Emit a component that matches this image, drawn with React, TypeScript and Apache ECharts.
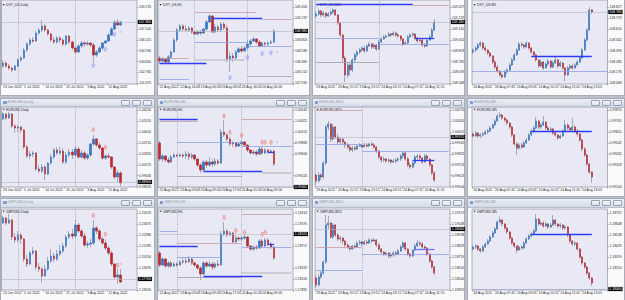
import React, { useEffect, useRef } from "react";
import * as echarts from "echarts";

type C = [number, number, number, number]; // open, close, low, high
type Seg = [number, number, number, string]; // price, from index, to index, style
type Pt = [number, number]; // index, price

// ---------------- DXY ----------------
const dxyD: C[] = [
  [103.4,103.7,103.2,104.0],[103.7,103.4,103.2,103.9],[103.4,103.2,103.0,103.6],[103.2,103.0,102.8,103.3],
  [103.0,103.4,102.9,103.5],[103.4,104.0,103.3,104.2],[104.0,104.2,103.8,104.4],[104.2,105.0,104.1,105.2],
  [105.0,105.6,104.8,105.8],[105.6,106.0,105.4,106.2],[106.0,105.9,105.7,106.3],[105.9,106.7,105.8,106.9],
  [106.7,107.0,106.5,107.2],[107.0,107.4,106.8,108.0],[107.4,107.0,106.8,107.6],[107.0,106.6,106.4,107.1],
  [106.6,106.0,105.8,106.7],[106.0,105.8,105.6,106.3],[105.8,106.2,105.6,106.4],[106.2,106.0,105.7,106.4],
  [106.0,105.6,105.4,106.2],[105.6,106.4,105.4,106.5],[106.4,105.8,105.6,106.5],[105.8,105.2,105.0,105.9],
  [105.2,104.8,104.6,105.4],[104.8,105.4,104.7,105.6],[105.4,105.7,105.2,105.9],[105.7,105.6,105.3,105.9],
  [105.6,105.7,105.4,105.9],[105.7,105.5,105.3,105.8],[105.5,104.5,103.8,105.7],[104.5,104.8,104.3,105.0],
  [104.8,105.2,104.7,105.4],[105.2,105.7,105.0,105.8],[105.7,105.9,105.6,106.0],[105.9,106.5,105.8,106.7],
  [106.5,107.1,106.4,107.3],[107.1,107.8,107.0,108.0],[107.8,107.5,107.4,108.1],[107.5,107.8,107.4,107.9],
];
const dxyDTicks = [109.27, 107.1, 106.015, 104.93, 103.845, 102.76, 101.675];
const dxyDUp: Pt[] = [[30, 103.5], [34, 105.1], [37, 106.6]];
const dxyDQ: Pt[] = [[39, 106.7]];
const dxyDV = [5, 24];

const dxyH1: C[] = [
  [108.44,108.38,108.34,108.48],[108.38,108.42,108.32,108.46],[108.42,108.36,108.34,108.44],[108.36,108.46,108.34,108.50],
  [108.46,108.56,108.44,108.60],[108.56,108.80,108.54,108.84],[108.80,109.00,108.76,109.04],[109.00,109.08,108.96,109.12],
  [109.08,109.02,108.98,109.12],[109.02,109.00,108.98,109.10],[109.00,109.04,108.96,109.08],[109.04,108.96,108.92,109.06],
  [108.96,108.92,108.90,109.00],[108.92,108.96,108.90,109.00],[108.96,108.94,108.90,109.00],[108.94,109.02,108.92,109.04],
  [109.02,109.16,108.98,109.20],[109.16,109.28,109.14,109.32],[109.28,108.96,108.94,109.30],[108.96,109.06,108.94,109.12],
  [109.06,109.00,108.96,109.10],[109.00,109.12,108.96,109.16],[109.12,109.04,109.00,109.16],[109.04,108.40,108.36,109.10],
  [108.40,108.48,108.16,108.56],[108.48,108.44,108.36,108.54],[108.44,108.56,108.40,108.60],[108.56,108.62,108.54,108.66],
  [108.62,108.58,108.54,108.68],[108.58,108.64,108.56,108.68],[108.64,108.72,108.60,108.80],[108.72,108.78,108.68,108.82],
  [108.78,108.82,108.76,108.86],[108.82,108.76,108.72,108.84],[108.76,108.68,108.66,108.80],[108.68,108.74,108.66,108.76],
  [108.74,108.72,108.66,108.76],[108.72,108.74,108.68,108.78],[108.74,108.76,108.72,108.80],[108.76,108.98,108.74,109.02],
];
const dxyH1Ticks = [109.454, 109.237, 108.803, 108.586, 108.369, 108.152, 107.935];
const dxyH1Segs: Seg[] = [
  [109.354, 12, 33, "brown"], [109.234, 18, 35, "blue"], [109.214, 35, 45, "brown"],
  [108.754, 12, 30, "lblue"], [108.68, 30, 45, "lblue"], [108.434, 0, 10, "brown"],
  [108.34, 0, 16, "blue"], [108.414, 12, 29, "gray2"], [108.02, 0, 10, "lblue"], [108.066, 30, 45, "gray"],
];
const dxyH1Up: Pt[] = [[24, 108.054], [30, 108.454], [35, 108.534], [38, 108.546]];
const dxyH1Q: Pt[] = [[40, 108.55]];
const dxyH1V = [12, 30];

const dxyM15: C[] = [
  [109.24,109.26,109.22,109.29],[109.26,109.29,109.24,109.31],[109.29,109.25,109.23,109.30],[109.25,109.27,109.23,109.29],
  [109.27,109.24,109.22,109.28],[109.24,109.26,109.23,109.28],[109.26,109.28,109.24,109.30],[109.28,109.30,109.26,109.32],
  [109.30,109.25,109.24,109.31],[109.25,109.17,109.15,109.26],[109.17,109.05,109.03,109.18],[109.05,108.82,108.78,109.06],
  [108.82,108.65,108.58,108.84],[108.65,108.75,108.62,108.78],[108.75,108.70,108.64,108.77],[108.70,108.80,108.68,108.82],
  [108.80,108.85,108.78,108.87],[108.85,108.88,108.83,108.90],[108.88,108.90,108.86,108.92],[108.90,108.92,108.88,108.94],
  [108.92,108.89,108.87,108.94],[108.89,108.94,108.88,108.96],[108.94,108.96,108.93,108.98],[108.96,108.93,108.91,108.97],
  [108.93,108.95,108.91,108.97],[108.95,108.91,108.89,108.96],[108.91,108.98,108.90,109.00],[108.98,109.01,108.97,109.03],
  [109.01,109.03,109.00,109.05],[109.03,109.04,109.02,109.06],[109.04,109.06,109.03,109.08],[109.06,109.05,109.03,109.07],
  [109.05,109.07,109.04,109.09],[109.07,109.05,109.03,109.08],[109.05,109.04,109.02,109.07],[109.04,109.01,108.99,109.05],
  [109.01,108.96,108.94,109.02],[108.96,108.97,108.95,108.99],[108.97,109.03,108.96,109.05],[109.03,109.05,109.02,109.07],
  [109.05,109.06,109.03,109.08],[109.06,109.02,109.00,109.07],[109.02,108.99,108.97,109.03],[108.99,109.00,108.98,109.02],
  [109.00,108.95,108.93,109.01],[108.95,108.94,108.92,108.97],[108.94,109.00,108.93,109.02],[109.00,109.03,108.99,109.05],
  [109.03,109.10,109.02,109.12],[109.10,109.18,109.09,109.21],
];
const dxyM15Ticks = [109.327, 109.219, 109.11, 109.002, 108.893, 108.785, 108.676, 108.568];
const dxyM15Segs: Seg[] = [
  [109.357, 0, 40, "blue"], [109.343, 40, 55, "brown"], [109.017, 0, 26, "lblue"],
  [108.957, 26, 55, "lblue"], [108.773, 0, 26, "gray"], [109.017, 41, 49, "blue"],
];
const dxyM15V = [26];

const dxyM5: C[] = [
  [108.38,108.40,108.36,108.42],[108.40,108.42,108.38,108.44],[108.42,108.45,108.40,108.47],[108.45,108.47,108.43,108.49],
  [108.47,108.42,108.40,108.48],[108.42,108.40,108.38,108.44],[108.40,108.37,108.35,108.41],[108.37,108.34,108.32,108.38],
  [108.34,108.28,108.26,108.35],[108.28,108.23,108.21,108.30],[108.23,108.19,108.17,108.25],[108.19,108.15,108.13,108.20],
  [108.15,108.13,108.11,108.17],[108.13,108.18,108.12,108.20],[108.18,108.20,108.16,108.22],[108.20,108.25,108.19,108.27],
  [108.25,108.30,108.24,108.32],[108.30,108.35,108.29,108.37],[108.35,108.40,108.34,108.42],[108.40,108.46,108.39,108.48],
  [108.46,108.45,108.43,108.48],[108.45,108.43,108.41,108.46],[108.43,108.47,108.42,108.49],[108.47,108.42,108.40,108.48],
  [108.42,108.38,108.36,108.43],[108.38,108.35,108.33,108.39],[108.35,108.30,108.28,108.36],[108.30,108.24,108.22,108.31],
  [108.24,108.28,108.23,108.30],[108.28,108.22,108.20,108.29],[108.22,108.26,108.21,108.28],[108.26,108.29,108.24,108.31],
  [108.29,108.23,108.21,108.30],[108.23,108.27,108.22,108.29],[108.27,108.30,108.26,108.33],[108.30,108.24,108.22,108.31],
  [108.24,108.27,108.23,108.29],[108.27,108.22,108.20,108.28],[108.22,108.15,108.09,108.23],[108.15,108.22,108.14,108.24],
  [108.22,108.24,108.20,108.26],[108.24,108.22,108.20,108.26],[108.22,108.25,108.21,108.27],[108.25,108.28,108.24,108.30],
  [108.28,108.32,108.27,108.34],[108.32,108.40,108.31,108.42],[108.40,108.50,108.39,108.52],[108.50,108.60,108.49,108.62],
  [108.60,108.80,108.59,108.83],[108.80,108.78,108.76,108.81],
];
const dxyM5Ticks = [108.827, 108.719, 108.61, 108.502, 108.393, 108.285, 108.176, 108.068];
const dxyM5Segs: Seg[] = [[108.333, 24, 49, "blue"]];
const dxyM5Full: [number, string][] = [[108.19, "lblue"]];

// ---------------- EURUSD ----------------
const eurD: C[] = [
  [1.053,1.058,1.052,1.060],[1.058,1.054,1.052,1.059],[1.054,1.058,1.053,1.060],[1.058,1.046,1.044,1.059],
  [1.046,1.044,1.039,1.048],[1.044,1.045,1.040,1.047],[1.045,1.042,1.039,1.046],[1.042,1.025,1.023,1.043],
  [1.025,1.016,1.014,1.027],[1.016,1.018,1.013,1.021],[1.018,1.019,1.015,1.021],[1.019,1.003,1.001,1.020],
  [1.003,1.001,0.999,1.007],[1.001,1.005,0.999,1.008],[1.005,0.998,0.992,1.007],[0.998,1.009,0.997,1.010],
  [1.009,1.015,1.007,1.018],[1.015,1.022,1.013,1.024],[1.022,1.019,1.017,1.025],[1.019,1.021,1.017,1.025],
  [1.021,1.010,1.008,1.024],[1.010,1.017,1.008,1.020],[1.017,1.020,1.015,1.023],[1.020,1.017,1.013,1.023],
  [1.017,1.023,1.015,1.026],[1.023,1.015,1.013,1.025],[1.015,1.019,1.013,1.022],[1.019,1.014,1.012,1.021],
  [1.014,1.017,1.012,1.019],[1.017,1.028,1.015,1.029],[1.028,1.033,1.026,1.037],[1.033,1.027,1.025,1.034],
  [1.027,1.024,1.022,1.030],[1.024,1.014,1.012,1.025],[1.014,1.016,1.012,1.018],[1.016,1.015,1.013,1.019],
  [1.015,1.005,1.003,1.016],[1.005,0.995,0.993,1.006],[0.995,0.999,0.990,1.002],[0.999,0.989,0.986,1.001],
];
const eurDTicks = [1.062, 1.05105, 1.0401, 1.02915, 1.0182, 1.00725, 0.9963, 0.98535];
const eurDDown: Pt[] = [[30, 1.042], [34, 1.0243]];
const eurDV = [5, 24];

const eurH1: C[] = [
  [0.9988,0.9956,0.9952,0.9992],[0.9956,0.9962,0.9950,0.9966],[0.9962,0.9954,0.9950,0.9964],[0.9954,0.9950,0.9946,0.9960],
  [0.9950,0.9960,0.9948,0.9964],[0.9960,0.9964,0.9958,0.9968],[0.9964,0.9962,0.9960,0.9966],[0.9962,0.9964,0.9960,0.9968],
  [0.9964,0.9962,0.9958,0.9968],[0.9962,0.9966,0.9956,0.9972],[0.9966,0.9960,0.9954,0.9970],[0.9960,0.9964,0.9956,0.9968],
  [0.9964,0.9956,0.9952,0.9966],[0.9956,0.9944,0.9940,0.9958],[0.9944,0.9934,0.9928,0.9948],[0.9934,0.9950,0.9930,0.9954],
  [0.9950,0.9944,0.9938,0.9954],[0.9944,0.9950,0.9940,0.9960],[0.9950,0.9946,0.9940,0.9956],[0.9946,0.9952,0.9942,0.9958],
  [0.9952,0.9948,0.9944,0.9956],[0.9948,1.0010,0.9946,1.0016],[1.0010,1.0004,1.0000,1.0034],[1.0004,0.9996,0.9992,1.0008],
  [0.9996,0.9986,0.9982,1.0000],[0.9986,0.9988,0.9980,0.9992],[0.9988,0.9982,0.9978,0.9990],[0.9982,0.9986,0.9980,0.9990],
  [0.9986,0.9990,0.9982,0.9994],[0.9990,0.9984,0.9980,0.9992],[0.9984,0.9974,0.9970,0.9986],[0.9974,0.9968,0.9964,0.9976],
  [0.9968,0.9970,0.9964,0.9974],[0.9970,0.9966,0.9962,0.9974],[0.9966,0.9976,0.9964,0.9980],[0.9976,0.9968,0.9964,0.9980],
  [0.9968,0.9974,0.9966,0.9978],[0.9974,0.9970,0.9966,0.9976],[0.9970,0.9972,0.9968,0.9976],[0.9972,0.9946,0.9942,0.9974],
];
const eurH1Ticks = [1.0054, 1.00321, 1.00102, 0.99883, 0.99664, 0.99226, 0.99007];
const eurH1Segs: Seg[] = [
  [1.00354, 0, 13, "blue"], [1.00306, 0, 13, "brown"], [1.0036, 28, 45, "brown"],
  [0.99894, 6, 28, "lblue"], [0.99806, 28, 45, "lblue"], [0.99306, 15, 35, "blue"],
  [0.99294, 35, 45, "gray2"], [0.9922, 6, 28, "gray"], [0.99694, 37, 39, "blue"],
];
const eurH1Down: Pt[] = [[22, 1.0041], [24, 1.0009], [28, 1.0003], [35, 0.9989], [36, 0.9989], [38, 0.9989]];
const eurH1Q: Pt[] = [[40, 0.9989]];
const eurH1V = [6, 28];

const eurM15: C[] = [
  [0.9962,0.9956,0.9952,0.9964],[0.9956,0.9962,0.9954,0.9965],[0.9962,0.9960,0.9957,0.9964],[0.9960,0.9974,0.9958,0.9976],
  [0.9974,1.0010,0.9972,1.0012],[1.0010,1.0013,1.0007,1.0016],[1.0013,0.9998,0.9995,1.0014],[0.9998,1.0010,0.9996,1.0013],
  [1.0010,1.0000,0.9998,1.0011],[1.0000,0.9995,0.9993,1.0003],[0.9995,0.9998,0.9993,1.0000],[0.9998,0.9995,0.9992,0.9999],
  [0.9995,0.9992,0.9989,0.9996],[0.9992,0.9990,0.9988,0.9994],[0.9990,0.9987,0.9985,0.9992],[0.9987,0.9989,0.9985,0.9991],
  [0.9989,0.9988,0.9986,0.9991],[0.9988,0.9991,0.9987,0.9993],[0.9991,0.9992,0.9990,0.9994],[0.9992,0.9990,0.9989,0.9993],
  [0.9990,0.9992,0.9990,0.9994],[0.9992,0.9991,0.9989,0.9994],[0.9991,0.9993,0.9990,0.9994],[0.9993,0.9992,0.9991,0.9995],
  [0.9992,0.9990,0.9988,0.9994],[0.9990,0.9986,0.9984,0.9991],[0.9986,0.9980,0.9978,0.9987],[0.9980,0.9977,0.9974,0.9981],
  [0.9977,0.9978,0.9975,0.9980],[0.9978,0.9976,0.9974,0.9979],[0.9976,0.9977,0.9974,0.9979],[0.9977,0.9975,0.9973,0.9978],
  [0.9975,0.9976,0.9974,0.9978],[0.9976,0.9977,0.9974,0.9979],[0.9977,0.9978,0.9975,0.9980],[0.9978,0.9981,0.9976,0.9983],
  [0.9981,0.9984,0.9979,0.9985],[0.9984,0.9978,0.9976,0.9985],[0.9978,0.9972,0.9970,0.9980],[0.9972,0.9970,0.9968,0.9974],
  [0.9970,0.9974,0.9969,0.9976],[0.9974,0.9980,0.9972,0.9982],[0.9980,0.9981,0.9977,0.9983],[0.9981,0.9979,0.9976,0.9983],
  [0.9979,0.9975,0.9973,0.9980],[0.9975,0.9981,0.9974,0.9983],[0.9981,0.9978,0.9976,0.9983],[0.9978,0.9972,0.9970,0.9979],
  [0.9972,0.9964,0.9962,0.9973],[0.9964,0.9957,0.9955,0.9966],
];
const eurM15Ticks = [1.0027, 1.00161, 1.00051, 0.99942, 0.99832, 0.99723, 0.99613, 0.99504];
const eurM15Segs: Seg[] = [
  [1.00263, 0, 19, "brown"], [0.99927, 0, 19, "lblue"], [0.9986, 19, 55, "lblue"], [0.9977, 40, 49, "blue"],
];
const eurM15V = [19];

const eurM5: C[] = [
  [0.9963,0.9961,0.9959,0.9965],[0.9961,0.9964,0.9960,0.9966],[0.9964,0.9961,0.9959,0.9965],[0.9961,0.9962,0.9959,0.9964],
  [0.9962,0.9963,0.9960,0.9965],[0.9963,0.9965,0.9962,0.9967],[0.9965,0.9966,0.9963,0.9968],[0.9966,0.9969,0.9965,0.9971],
  [0.9969,0.9972,0.9968,0.9974],[0.9972,0.9976,0.9971,0.9978],[0.9976,0.9981,0.9975,0.9983],[0.9981,0.9982,0.9979,0.9985],
  [0.9982,0.9979,0.9977,0.9983],[0.9979,0.9977,0.9975,0.9980],[0.9977,0.9974,0.9972,0.9978],[0.9974,0.9970,0.9968,0.9975],
  [0.9970,0.9962,0.9960,0.9971],[0.9962,0.9953,0.9951,0.9963],[0.9953,0.9949,0.9942,0.9955],[0.9949,0.9952,0.9947,0.9954],
  [0.9952,0.9950,0.9948,0.9954],[0.9950,0.9954,0.9949,0.9956],[0.9954,0.9957,0.9953,0.9959],[0.9957,0.9962,0.9956,0.9964],
  [0.9962,0.9966,0.9961,0.9968],[0.9966,0.9969,0.9964,0.9971],[0.9969,0.9976,0.9968,0.9980],[0.9976,0.9970,0.9968,0.9977],
  [0.9970,0.9972,0.9968,0.9974],[0.9972,0.9975,0.9971,0.9981],[0.9975,0.9969,0.9967,0.9976],[0.9969,0.9967,0.9965,0.9971],
  [0.9967,0.9968,0.9965,0.9970],[0.9968,0.9964,0.9962,0.9969],[0.9964,0.9962,0.9960,0.9966],[0.9962,0.9959,0.9957,0.9963],
  [0.9959,0.9961,0.9958,0.9963],[0.9961,0.9966,0.9960,0.9968],[0.9966,0.9972,0.9965,0.9977],[0.9972,0.9969,0.9967,0.9974],
  [0.9969,0.9967,0.9965,0.9971],[0.9967,0.9970,0.9966,0.9979],[0.9970,0.9966,0.9964,0.9972],[0.9966,0.9963,0.9960,0.9968],
  [0.9963,0.9957,0.9955,0.9964],[0.9957,0.9948,0.9946,0.9958],[0.9948,0.9942,0.9940,0.9950],[0.9942,0.9933,0.9931,0.9943],
  [0.9933,0.9925,0.9923,0.9934],[0.9925,0.9920,0.9914,0.9926],
];
const eurM5Ticks = [0.9987, 0.99761, 0.99651, 0.99542, 0.99432, 0.99323, 0.99104];
const eurM5Segs: Seg[] = [[0.99653, 24, 49, "blue"]];
const eurM5Full: [number, string][] = [[0.99863, "lblue"]];

// ---------------- GBPUSD ----------------
const gbpD: C[] = [
  [1.236,1.241,1.235,1.243],[1.241,1.236,1.234,1.242],[1.236,1.239,1.235,1.245],[1.239,1.222,1.219,1.240],
  [1.222,1.219,1.216,1.226],[1.219,1.224,1.217,1.228],[1.224,1.220,1.215,1.226],[1.220,1.200,1.197,1.221],
  [1.200,1.195,1.192,1.204],[1.195,1.206,1.194,1.208],[1.206,1.208,1.204,1.212],[1.208,1.192,1.189,1.209],
  [1.192,1.190,1.187,1.196],[1.190,1.183,1.176,1.192],[1.183,1.190,1.182,1.194],[1.190,1.198,1.188,1.202],
  [1.198,1.203,1.196,1.210],[1.203,1.200,1.197,1.206],[1.200,1.205,1.198,1.209],[1.205,1.208,1.203,1.214],
  [1.208,1.213,1.206,1.216],[1.213,1.222,1.211,1.224],[1.222,1.225,1.220,1.228],[1.225,1.223,1.220,1.230],
  [1.223,1.234,1.221,1.239],[1.234,1.228,1.226,1.236],[1.228,1.223,1.221,1.230],[1.223,1.214,1.212,1.226],
  [1.214,1.215,1.211,1.218],[1.215,1.216,1.212,1.220],[1.216,1.231,1.214,1.239],[1.231,1.228,1.225,1.233],
  [1.228,1.220,1.218,1.230],[1.220,1.216,1.214,1.222],[1.216,1.211,1.209,1.220],[1.211,1.206,1.204,1.213],
  [1.206,1.195,1.193,1.208],[1.195,1.182,1.180,1.196],[1.182,1.184,1.175,1.190],[1.184,1.177,1.176,1.190],
];
const gbpDTicks = [1.2457, 1.23475, 1.2238, 1.21285, 1.2019, 1.19095, 1.16905];
const gbpDDown: Pt[] = [[30, 1.2433], [34, 1.2247], [38, 1.1933]];
const gbpDQ: Pt[] = [[39, 1.194]];
const gbpDV = [5, 24];

const gbpH1: C[] = [
  [1.1862,1.1838,1.1834,1.1866],[1.1838,1.1850,1.1836,1.1854],[1.1850,1.1836,1.1832,1.1852],[1.1836,1.1842,1.1832,1.1846],
  [1.1842,1.1836,1.1832,1.1846],[1.1836,1.1840,1.1834,1.1844],[1.1840,1.1838,1.1834,1.1844],[1.1838,1.1844,1.1836,1.1848],
  [1.1844,1.1846,1.1840,1.1852],[1.1846,1.1844,1.1840,1.1854],[1.1844,1.1850,1.1842,1.1856],[1.1850,1.1842,1.1838,1.1852],
  [1.1842,1.1838,1.1834,1.1846],[1.1838,1.1832,1.1828,1.1840],[1.1832,1.1820,1.1808,1.1836],[1.1820,1.1842,1.1818,1.1846],
  [1.1842,1.1836,1.1832,1.1846],[1.1836,1.1840,1.1834,1.1846],[1.1840,1.1834,1.1828,1.1844],[1.1834,1.1840,1.1830,1.1844],
  [1.1840,1.1838,1.1834,1.1848],[1.1838,1.1900,1.1836,1.1906],[1.1900,1.1906,1.1896,1.1924],[1.1906,1.1898,1.1894,1.1910],
  [1.1898,1.1902,1.1896,1.1906],[1.1902,1.1884,1.1880,1.1904],[1.1884,1.1892,1.1882,1.1898],[1.1892,1.1890,1.1886,1.1896],
  [1.1890,1.1892,1.1886,1.1896],[1.1892,1.1894,1.1888,1.1898],[1.1894,1.1876,1.1872,1.1896],[1.1876,1.1870,1.1866,1.1878],
  [1.1870,1.1874,1.1866,1.1876],[1.1874,1.1872,1.1868,1.1878],[1.1872,1.1886,1.1870,1.1890],[1.1886,1.1876,1.1872,1.1890],
  [1.1876,1.1888,1.1874,1.1892],[1.1888,1.1880,1.1876,1.1892],[1.1880,1.1874,1.1870,1.1884],[1.1874,1.1852,1.1848,1.1876],
];
const gbpH1Ticks = [1.19414, 1.19195, 1.18976, 1.18757, 1.18319, 1.181, 1.17881];
const gbpH1Segs: Seg[] = [
  [1.194, 28, 45, "brown"], [1.1906, 0, 6, "lblue"], [1.1876, 0, 13, "blue"], [1.18814, 6, 28, "brown"],
  [1.18534, 6, 21, "lblue"], [1.18734, 28, 45, "lblue"], [1.18134, 6, 28, "gray"], [1.1816, 15, 35, "blue"],
  [1.18234, 28, 45, "gray2"], [1.18794, 37, 39, "blue"],
];
const gbpH1Down: Pt[] = [[22, 1.1933], [26, 1.1906], [29, 1.1903], [35, 1.1899], [36, 1.1903]];
const gbpH1V = [6, 28];

const gbpM15: C[] = [
  [1.1851,1.1844,1.1841,1.1854],[1.1844,1.1852,1.1842,1.1855],[1.1852,1.1856,1.1850,1.1858],[1.1856,1.1867,1.1854,1.1869],
  [1.1867,1.1904,1.1865,1.1914],[1.1904,1.1906,1.1900,1.1913],[1.1906,1.1892,1.1890,1.1907],[1.1892,1.1904,1.1890,1.1906],
  [1.1904,1.1894,1.1892,1.1905],[1.1894,1.1890,1.1888,1.1896],[1.1890,1.1891,1.1887,1.1893],[1.1891,1.1888,1.1885,1.1892],
  [1.1888,1.1884,1.1882,1.1889],[1.1884,1.1882,1.1880,1.1886],[1.1882,1.1880,1.1878,1.1883],[1.1880,1.1883,1.1879,1.1884],
  [1.1883,1.1882,1.1880,1.1885],[1.1882,1.1886,1.1881,1.1888],[1.1886,1.1887,1.1884,1.1889],[1.1887,1.1885,1.1883,1.1888],
  [1.1885,1.1887,1.1884,1.1889],[1.1887,1.1886,1.1884,1.1889],[1.1886,1.1889,1.1885,1.1891],[1.1889,1.1888,1.1886,1.1890],
  [1.1888,1.1889,1.1887,1.1891],[1.1889,1.1884,1.1882,1.1890],[1.1884,1.1880,1.1878,1.1886],[1.1880,1.1877,1.1875,1.1881],
  [1.1877,1.1875,1.1873,1.1878],[1.1875,1.1876,1.1873,1.1877],[1.1876,1.1873,1.1871,1.1877],[1.1873,1.1874,1.1871,1.1876],
  [1.1874,1.1876,1.1872,1.1878],[1.1876,1.1875,1.1873,1.1878],[1.1875,1.1878,1.1874,1.1880],[1.1878,1.1882,1.1877,1.1884],
  [1.1882,1.1886,1.1881,1.1888],[1.1886,1.1880,1.1878,1.1887],[1.1880,1.1875,1.1873,1.1881],[1.1875,1.1873,1.1871,1.1876],
  [1.1873,1.1879,1.1872,1.1880],[1.1879,1.1883,1.1878,1.1885],[1.1883,1.1886,1.1882,1.1889],[1.1886,1.1885,1.1883,1.1888],
  [1.1885,1.1882,1.1880,1.1887],[1.1882,1.1881,1.1879,1.1884],[1.1881,1.1875,1.1873,1.1882],[1.1875,1.1868,1.1866,1.1876],
  [1.1868,1.1862,1.1860,1.1869],[1.1862,1.1856,1.1854,1.1863],
];
const gbpM15Ticks = [1.19157, 1.19048, 1.18938, 1.18829, 1.18719, 1.1861, 1.185, 1.18391];
const gbpM15Segs: Seg[] = [
  [1.18817, 0, 19, "brown"], [1.1875, 19, 55, "lblue"], [1.18583, 0, 19, "lblue"], [1.188, 41, 49, "blue2"],
];
const gbpM15V = [19];

const gbpM5: C[] = [
  [1.1840,1.1842,1.1838,1.1844],[1.1842,1.1843,1.1840,1.1845],[1.1843,1.1840,1.1838,1.1844],[1.1840,1.1838,1.1836,1.1841],
  [1.1838,1.1842,1.1837,1.1844],[1.1842,1.1845,1.1841,1.1847],[1.1845,1.1848,1.1844,1.1850],[1.1848,1.1852,1.1847,1.1854],
  [1.1852,1.1856,1.1851,1.1858],[1.1856,1.1860,1.1855,1.1862],[1.1860,1.1867,1.1859,1.1869],[1.1867,1.1869,1.1866,1.1872],
  [1.1869,1.1865,1.1863,1.1870],[1.1865,1.1861,1.1859,1.1866],[1.1861,1.1857,1.1855,1.1862],[1.1857,1.1851,1.1849,1.1858],
  [1.1851,1.1846,1.1844,1.1852],[1.1846,1.1843,1.1841,1.1847],[1.1843,1.1839,1.1836,1.1844],[1.1839,1.1842,1.1838,1.1844],
  [1.1842,1.1841,1.1839,1.1844],[1.1841,1.1846,1.1840,1.1848],[1.1846,1.1850,1.1845,1.1852],[1.1850,1.1853,1.1849,1.1855],
  [1.1853,1.1855,1.1852,1.1857],[1.1855,1.1858,1.1854,1.1860],[1.1858,1.1870,1.1857,1.1875],[1.1870,1.1865,1.1863,1.1871],
  [1.1865,1.1866,1.1863,1.1868],[1.1866,1.1863,1.1861,1.1868],[1.1863,1.1865,1.1862,1.1867],[1.1865,1.1862,1.1860,1.1866],
  [1.1862,1.1864,1.1861,1.1866],[1.1864,1.1869,1.1863,1.1874],[1.1869,1.1865,1.1863,1.1870],[1.1865,1.1863,1.1861,1.1866],
  [1.1863,1.1864,1.1861,1.1866],[1.1864,1.1861,1.1859,1.1865],[1.1861,1.1862,1.1859,1.1864],[1.1862,1.1854,1.1852,1.1863],
  [1.1854,1.1848,1.1846,1.1855],[1.1848,1.1845,1.1843,1.1849],[1.1845,1.1846,1.1843,1.1848],[1.1846,1.1840,1.1838,1.1847],
  [1.1840,1.1832,1.1830,1.1841],[1.1832,1.1826,1.1824,1.1833],[1.1826,1.1822,1.1820,1.1827],[1.1822,1.1816,1.1814,1.1823],
  [1.1816,1.1811,1.1809,1.1817],[1.1811,1.1806,1.1803,1.1812],
];
const gbpM5Ticks = [1.18757, 1.18648, 1.18538, 1.18429, 1.18319, 1.1821, 1.17991];
const gbpM5Segs: Seg[] = [[1.18547, 24, 49, "blue"]];
const gbpM5Full: [number, string][] = [[1.18447, "lblue"]];

// ---------------- time-axis labels ----------------
const dailyLabels: [number, string][] = [[0, "23 Jun 2022"], [7, "5 Jul 2022"], [14, "14 Jul 2022"], [21, "25 Jul 2022"], [28, "3 Aug 2022"], [35, "12 Aug 2022"]];
const dxyH1Labels: [number, string][] = [[0, "22 Aug 2022"], [7, "22 Aug 16:00"], [14, "23 Aug 00:00"], [21, "23 Aug 08:00"], [28, "23 Aug 16:00"], [35, "24 Aug 00:00"]];
const eurH1Labels: [number, string][] = [[0, "22 Aug 2022"], [7, "23 Aug 03:00"], [14, "23 Aug 09:00"], [21, "23 Aug 17:00"], [28, "24 Aug 01:00"], [35, "24 Aug 09:00"]];
const m15Labels: [number, string][] = [[0, "23 Aug 2022"], [9, "23 Aug 15:15"], [18, "23 Aug 23:15"], [27, "24 Aug 03:15"], [36, "24 Aug 07:15"], [45, "24 Aug 11:15"]];
const m5Labels: [number, string][] = [[0, "24 Aug 2022"], [9, "24 Aug 07:45"], [18, "24 Aug 09:05"], [27, "24 Aug 10:25"], [36, "24 Aug 11:45"], [45, "24 Aug 13:05"]];

// ---------------- layout & style ----------------
const COLS = [{ x: 1, w: 136 }, { x: 158, w: 135 }, { x: 315, w: 135 }, { x: 472, w: 135.5 }];
const ROWS = [{ y: 0, h: 84 }, { y: 107, h: 80 }, { y: 209, h: 81 }];
const WIN_X = [[0, 155], [156.5, 310], [311.5, 465], [466.5, 625]];
const WIN_Y = [[-10, 96], [97.5, 196.5], [197.5, 301]];
const FF = "Liberation Sans";
const FS = 3.4;
const BULL = "#2F78CC";
const BEAR = "#C3262C";
const WICK = "#8C8C98";
const PLOT_BG = "#E9E9F6";
const LS: Record<string, any> = {
  blue: { color: "#2E3DF2", width: 1.3, type: "solid" },
  blue2: { color: "#7074F4", width: 1.3, type: "solid" },
  lblue: { color: "#92A0E4", width: 0.8, type: "solid" },
  brown: { color: "#C69AA0", width: 0.8, type: "solid" },
  gray: { color: "#A0A0AC", width: 0.8, type: "solid" },
  gray2: { color: "#C4C4CC", width: 1.6, type: "solid" },
};
const ARROW = "path://M5 0L10 5H7V10H3V5H0Z";

interface Panel {
  title: string; col: number; row: number; cats: number; min: number; max: number; dec: number;
  candles: C[]; ticks: number[]; xl: [number, string][]; segs: Seg[]; full: [number, string][];
  vl: number[]; up: Pt[]; down: Pt[]; q: Pt[]; bw: number;
}

const PANELS: Panel[] = [
  { title: "DXY_US,Daily", col: 0, row: 0, cats: 45, min: 101.6, max: 110.0, dec: 3, candles: dxyD, ticks: dxyDTicks, xl: dailyLabels, segs: [], full: [], vl: dxyDV, up: dxyDUp, down: [], q: dxyDQ, bw: 2 },
  { title: "DXY_US,H1", col: 1, row: 0, cats: 46, min: 107.92, max: 109.6, dec: 3, candles: dxyH1, ticks: dxyH1Ticks, xl: dxyH1Labels, segs: dxyH1Segs, full: [], vl: dxyH1V, up: dxyH1Up, down: [], q: dxyH1Q, bw: 2 },
  { title: "DXY_US,M15", col: 2, row: 0, cats: 56, min: 108.56, max: 109.4, dec: 3, candles: dxyM15, ticks: dxyM15Ticks, xl: m15Labels, segs: dxyM15Segs, full: [], vl: dxyM15V, up: [], down: [], q: [], bw: 1.5 },
  { title: "DXY_US,M5", col: 3, row: 0, cats: 56, min: 108.06, max: 108.9, dec: 3, candles: dxyM5, ticks: dxyM5Ticks, xl: m5Labels, segs: dxyM5Segs, full: dxyM5Full, vl: [], up: [], down: [], q: [], bw: 1.5 },
  { title: "EURUSD,Daily", col: 0, row: 1, cats: 45, min: 0.985, max: 1.065, dec: 5, candles: eurD, ticks: eurDTicks, xl: dailyLabels, segs: [], full: [], vl: eurDV, up: [], down: eurDDown, q: [], bw: 2 },
  { title: "EURUSD,H1", col: 1, row: 1, cats: 46, min: 0.99, max: 1.006, dec: 5, candles: eurH1, ticks: eurH1Ticks, xl: eurH1Labels, segs: eurH1Segs, full: [], vl: eurH1V, up: [], down: eurH1Down, q: eurH1Q, bw: 2 },
  { title: "EURUSD,M15", col: 2, row: 1, cats: 56, min: 0.995, max: 1.003, dec: 5, candles: eurM15, ticks: eurM15Ticks, xl: m15Labels, segs: eurM15Segs, full: [], vl: eurM15V, up: [], down: [], q: [], bw: 1.5 },
  { title: "EURUSD,M5", col: 3, row: 1, cats: 56, min: 0.991, max: 0.999, dec: 5, candles: eurM5, ticks: eurM5Ticks, xl: m5Labels, segs: eurM5Segs, full: eurM5Full, vl: [], up: [], down: [], q: [], bw: 1.5 },
  { title: "GBPUSD,Daily", col: 0, row: 2, cats: 45, min: 1.169, max: 1.25, dec: 5, candles: gbpD, ticks: gbpDTicks, xl: dailyLabels, segs: [], full: [], vl: gbpDV, up: [], down: gbpDDown, q: gbpDQ, bw: 2 },
  { title: "GBPUSD,H1", col: 1, row: 2, cats: 46, min: 1.1788, max: 1.195, dec: 5, candles: gbpH1, ticks: gbpH1Ticks, xl: eurH1Labels, segs: gbpH1Segs, full: [], vl: gbpH1V, up: [], down: gbpH1Down, q: [], bw: 2 },
  { title: "GBPUSD,M15", col: 2, row: 2, cats: 56, min: 1.1839, max: 1.192, dec: 5, candles: gbpM15, ticks: gbpM15Ticks, xl: m15Labels, segs: gbpM15Segs, full: [], vl: gbpM15V, up: [], down: [], q: [], bw: 1.5 },
  { title: "GBPUSD,M5", col: 3, row: 2, cats: 56, min: 1.1799, max: 1.188, dec: 5, candles: gbpM5, ticks: gbpM5Ticks, xl: m5Labels, segs: gbpM5Segs, full: gbpM5Full, vl: [], up: [], down: [], q: [], bw: 1.5 },
];

function buildOption() {
  const grid: any[] = [];
  const xAxis: any[] = [];
  const yAxis: any[] = [];
  const series: any[] = [];
  const graphic: any[] = [];

  PANELS.forEach((p, k) => {
    const cx = COLS[p.col];
    const ry = ROWS[p.row];
    grid.push({ left: cx.x, top: ry.y, width: cx.w, height: ry.h, show: true, backgroundColor: PLOT_BG, borderColor: "#8E92A2", borderWidth: 0.7 });
    const lm = new Map<number, string>(p.xl);
    xAxis.push({
      type: "category", gridIndex: k, boundaryGap: true,
      data: Array.from({ length: p.cats }, (_, i) => String(i)),
      axisLine: { show: false },
      axisTick: { show: true, length: 1.5, interval: (i: number) => lm.has(i), lineStyle: { color: "#666", width: 0.5 } },
      axisLabel: { show: true, interval: (i: number) => lm.has(i), formatter: (_v: string, i: number) => lm.get(i) ?? "", fontSize: FS, fontFamily: FF, color: "#2A2A2A", align: "left", margin: 1.6 },
      splitLine: { show: false },
    });
    yAxis.push({
      type: "value", gridIndex: k, position: "right", min: p.min, max: p.max,
      axisLine: { show: false },
      axisTick: { show: true, length: 1.5, customValues: p.ticks, lineStyle: { color: "#666", width: 0.5 } },
      axisLabel: { show: true, customValues: p.ticks, formatter: (v: number) => v.toFixed(p.dec), fontSize: FS, fontFamily: FF, color: "#2A2A2A", margin: 2 },
      splitLine: { show: false },
    });

    const last = p.candles[p.candles.length - 1][1];
    const mlData: any[] = [];
    p.segs.forEach((s) => mlData.push([{ coord: [String(s[1]), s[0]], lineStyle: LS[s[3]] }, { coord: [String(s[2]), s[0]] }]));
    p.full.forEach((f) => mlData.push({ yAxis: f[0], lineStyle: LS[f[1]] }));
    p.vl.forEach((v) => mlData.push({ xAxis: String(v), lineStyle: { color: "#8A8A98", width: 0.6, type: [1.2, 1.2] } }));
    mlData.push({
      yAxis: last, lineStyle: { color: "#B6B6C0", width: 0.6, type: "solid" },
      label: { show: true, position: "end", distance: 0.8, formatter: () => last.toFixed(p.dec), backgroundColor: "#000", color: "#fff", fontSize: FS, fontFamily: FF, padding: [0.6, 1] },
    });

    series.push({
      type: "candlestick", xAxisIndex: k, yAxisIndex: k, data: p.candles, barWidth: p.bw, silent: true, z: 2,
      itemStyle: { color: "rgba(0,0,0,0)", color0: "rgba(0,0,0,0)", borderColor: WICK, borderColor0: WICK, borderWidth: 0.7 },
      markLine: { silent: true, symbol: ["none", "none"], label: { show: false }, data: mlData, animation: false },
    });
    series.push({
      type: "candlestick", xAxisIndex: k, yAxisIndex: k, barWidth: p.bw, silent: true, z: 3,
      data: p.candles.map(([o, c]) => [o, c, Math.min(o, c), Math.max(o, c)]),
      itemStyle: { color: BULL, color0: BEAR, borderColor: BULL, borderColor0: BEAR, borderWidth: 0.4 },
    });
    if (p.up.length) {
      series.push({
        type: "scatter", xAxisIndex: k, yAxisIndex: k, silent: true, z: 4,
        data: p.up.map(([i, v]) => [String(i), v]), symbol: ARROW, symbolSize: [3.4, 4.4],
        itemStyle: { color: "#D4D4FB", borderColor: "#7676E4", borderWidth: 0.5 },
      });
    }
    if (p.down.length) {
      series.push({
        type: "scatter", xAxisIndex: k, yAxisIndex: k, silent: true, z: 4,
        data: p.down.map(([i, v]) => [String(i), v]), symbol: ARROW, symbolRotate: 180, symbolSize: [3.4, 4.4],
        itemStyle: { color: "#F9CACA", borderColor: "#E25A5A", borderWidth: 0.5 },
      });
    }
    if (p.q.length) {
      series.push({
        type: "scatter", xAxisIndex: k, yAxisIndex: k, silent: true, z: 4,
        data: p.q.map(([i, v]) => [String(i), v]), symbolSize: 1,
        itemStyle: { color: "rgba(0,0,0,0)" },
        label: { show: true, position: "inside", formatter: "?", fontSize: 3.8, color: "#85858F", fontFamily: FF },
      });
    }

    // in-plot title
    const ty = ry.y + (p.row === 0 ? 5 : 2.6);
    graphic.push({ type: "polygon", shape: { points: [[cx.x + 1.6, ty - 0.9], [cx.x + 3.6, ty - 0.9], [cx.x + 2.6, ty + 0.7]] }, style: { fill: "#222" }, silent: true });
    graphic.push({ type: "text", x: cx.x + 5, y: ty, style: { text: p.title, fontSize: FS, fontFamily: FF, fill: "#1E1E1E", textVerticalAlign: "middle", verticalAlign: "middle" }, silent: true });
    // window title (rows 2 and 3)
    if (p.row > 0) {
      const wx = WIN_X[p.col][0];
      const wy = WIN_Y[p.row][0];
      graphic.push({ type: "text", x: wx + 7.5, y: wy + 4.6, style: { text: p.title, fontSize: 3.8, fontFamily: FF, fill: "#8C93A5", textVerticalAlign: "middle", verticalAlign: "middle" }, silent: true });
    }
  });

  return { animation: false, backgroundColor: "transparent", grid, xAxis, yAxis, series, graphic };
}

export default function App() {
  const ref = useRef<HTMLDivElement>(null);
  useEffect(() => {
    document.body.style.margin = "0";
    const chart = echarts.init(ref.current!, undefined, { renderer: "svg", width: 625, height: 300 });
    chart.setOption(buildOption());
    return () => chart.dispose();
  }, []);

  const wins: any[] = [];
  WIN_Y.forEach((wy, r) => {
    WIN_X.forEach((wx, c) => {
      wins.push(
        <div key={`w${r}${c}`} style={{ position: "absolute", left: wx[0], top: wy[0], width: wx[1] - wx[0], height: wy[1] - wy[0], background: "#FAFAFD", border: "1px solid #A7ACB8", boxSizing: "border-box" }}>
          {r > 0 && (
            <div style={{ position: "absolute", left: 0, top: 0, right: 0, height: 8.5, background: "linear-gradient(#ECEFF5, #D3DAE6)", borderBottom: "1px solid #B7BFCC" }}>
              <div style={{ position: "absolute", left: 2, top: 2.5, width: 3.5, height: 3, background: "#7D9DD2", borderRadius: 0.5 }} />
              {[34, 23, 12].map((o) => (
                <div key={o} style={{ position: "absolute", right: o - 9.5, top: 1.5, width: 9, height: 5.5, background: "linear-gradient(#F4F6FA, #DCE2EC)", border: "0.6px solid #98A2B4", borderRadius: 1, boxSizing: "border-box" }} />
              ))}
            </div>
          )}
        </div>
      );
    });
  });

  return (
    <div style={{ position: "fixed", left: 0, top: 0, width: 625, height: 300, background: "#BCC0CA", overflow: "hidden" }}>
      {wins}
      <div ref={ref} style={{ position: "absolute", left: 0, top: 0, width: 625, height: 300 }} />
    </div>
  );
}
